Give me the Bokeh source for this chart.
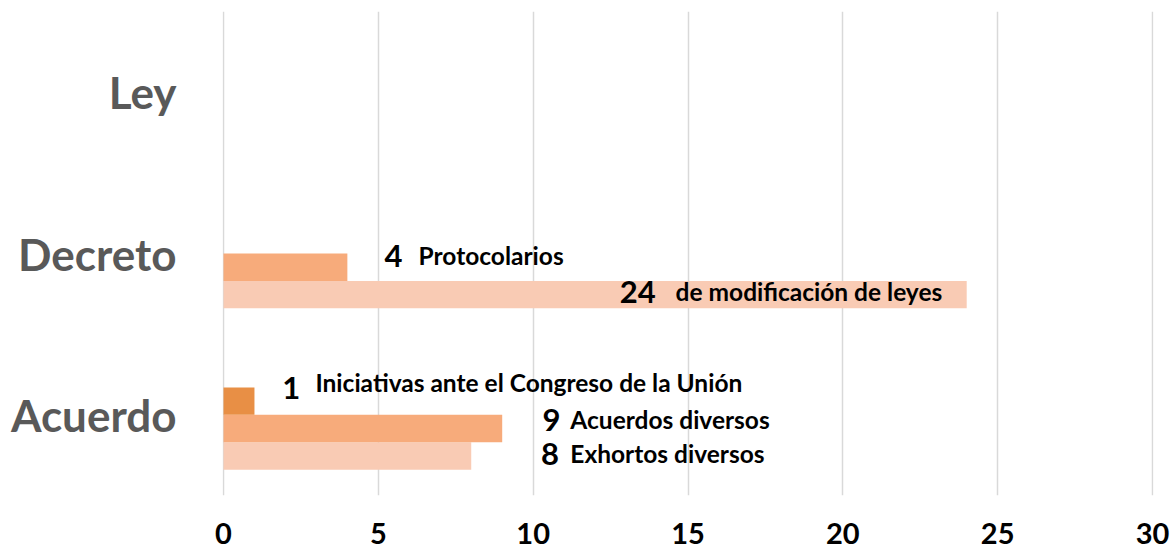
from bokeh.plotting import figure
from bokeh.models import ColumnDataSource, FactorRange, Range1d, FixedTicker
from bokeh.transform import dodge
from bokeh.core.properties import value
from bokeh.embed import file_html
from bokeh.resources import INLINE

# ---- data ----
categories = ["Acuerdo", "Decreto", "Ley"]

# series listed bottom-to-top within each category band
s1_values = [8, 24, 0]
s2_values = [9, 4, 0]
s3_values = [1, 0, 0]

s1_labels = ["Exhortos diversos", "de modificación de leyes", ""]
s2_labels = ["Acuerdos diversos", "Protocolarios", ""]
s3_labels = ["Iniciativas ante el Congreso de la Unión", "", ""]

# manual label anchors (data x of number, data x of description)
s1_num_x = [10.25, 12.8, 0]
s1_txt_x = [11.2, 14.6, 0]
s2_num_x = [10.3, 5.2, 0]
s2_txt_x = [11.2, 6.3, 0]
s3_num_x = [1.9, 0, 0]
s3_txt_x = [2.97, 0, 0]

x_ticks = [0, 5, 10, 15, 20, 25, 30]
x_min, x_max = 0, 30

colors = ["#F9CBB4", "#F7AB7B", "#E88F45"]
offsets = [-0.255, -0.085, 0.085]
bar_h = 0.17
num_dy = [[-2, -3, 0], [-9, -11, 0], [-13, 0, 0]]
txt_dy = [[-2, -3, 0], [-9, -12, 0], [-19, 0, 0]]

FONT = "Lato"
pad = 1 / 31.0  # one pixel of padding so edge gridlines are not clipped

p = figure(width=1170, height=548, output_backend="svg", toolbar_location=None,
           y_range=FactorRange(factors=categories),
           x_range=Range1d(x_min - pad, x_max + pad),
           min_border_left=222, min_border_right=17, min_border_top=11,
           min_border_bottom=53)
p.outline_line_color = None
p.background_fill_color = "white"
p.border_fill_color = "white"

series = [
    (s1_values, s1_labels, s1_num_x, s1_txt_x),
    (s2_values, s2_labels, s2_num_x, s2_txt_x),
    (s3_values, s3_labels, s3_num_x, s3_txt_x),
]

for i, (vals, labs, nx, tx) in enumerate(series):
    src = ColumnDataSource(dict(cat=categories, v=vals))
    p.hbar(y=dodge("cat", offsets[i], range=p.y_range), right="v", left=0,
           height=bar_h, source=src, fill_color=colors[i], line_color=None)
    idx = [k for k, l in enumerate(labs) if l]
    lsrc = ColumnDataSource(dict(
        cat=[categories[k] for k in idx],
        num=[str(vals[k]) for k in idx],
        txt=[labs[k] for k in idx],
        nx=[nx[k] for k in idx],
        tx=[tx[k] for k in idx],
        ndy=[num_dy[i][k] for k in idx],
        tdy=[txt_dy[i][k] for k in idx],
    ))
    p.text(x="nx", y=dodge("cat", offsets[i], range=p.y_range), text="num",
           y_offset="ndy", source=lsrc, text_font=value(FONT),
           text_font_style="bold", text_font_size="31px", text_color="black",
           text_align="left", text_baseline="middle")
    p.text(x="tx", y=dodge("cat", offsets[i], range=p.y_range), text="txt",
           y_offset="tdy", source=lsrc, text_font=value(FONT),
           text_font_style="bold", text_font_size="24.5px", text_color="black",
           text_align="left", text_baseline="middle")

# x axis
p.xaxis.ticker = FixedTicker(ticks=x_ticks)
p.xaxis.axis_line_color = None
p.xaxis.major_tick_line_color = None
p.xaxis.minor_tick_line_color = None
p.xaxis.major_tick_out = 0
p.xaxis.major_tick_in = 0
p.xaxis.major_label_standoff = 27
p.xaxis.major_label_text_font = FONT
p.xaxis.major_label_text_font_style = "bold"
p.xaxis.major_label_text_font_size = "29px"
p.xaxis.major_label_text_color = "black"

# y axis
p.yaxis.axis_line_color = None
p.yaxis.major_tick_line_color = None
p.yaxis.minor_tick_line_color = None
p.yaxis.major_tick_out = 0
p.yaxis.major_tick_in = 0
p.yaxis.major_label_standoff = 46
p.yaxis.major_label_text_font = FONT
p.yaxis.major_label_text_font_style = "bold"
p.yaxis.major_label_text_font_size = "44px"
p.yaxis.major_label_text_color = "#595959"

p.xgrid.grid_line_color = "#D9D9D9"
p.xgrid.grid_line_width = 1.5
p.ygrid.grid_line_color = None

open("out.html", "w").write(file_html(p, INLINE))
